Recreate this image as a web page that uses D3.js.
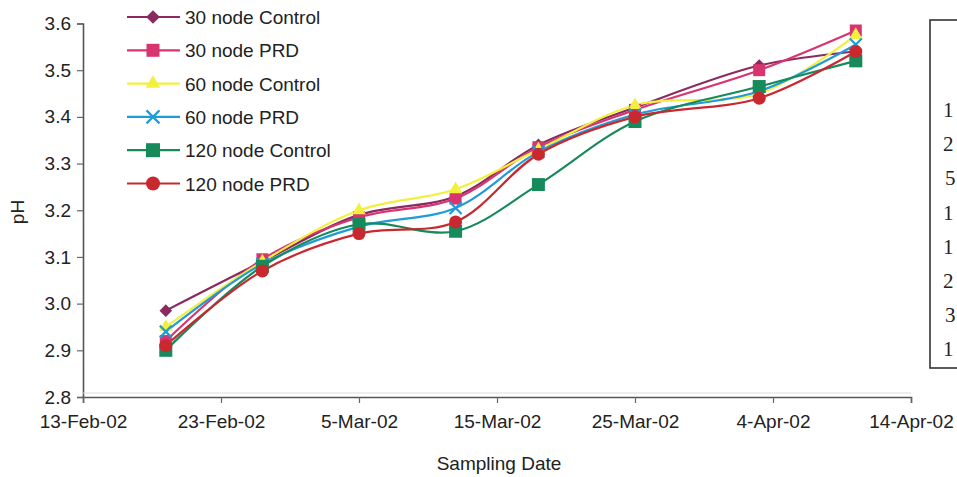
<!DOCTYPE html>
<html>
<head>
<meta charset="utf-8">
<script src="https://cdn.jsdelivr.net/npm/d3@7"></script>
<style>
  html, body { margin: 0; padding: 0; background: #fff; }
  svg { display: block; }
  text { font-family: "Liberation Sans", Arial, sans-serif; fill: #222; }
</style>
</head>
<body>
<svg id="chart" width="957" height="477"></svg>
<script>
// Sampling dates and pH readings per treatment
const sampleDates = ["2002-02-19", "2002-02-26", "2002-03-05", "2002-03-12", "2002-03-18", "2002-03-25", "2002-04-03", "2002-04-10"];
const seriesNames = ["30 node Control", "30 node PRD", "60 node Control", "60 node PRD", "120 node Control", "120 node PRD"];
const ph30Control  = [2.985, 3.09, 3.19, 3.23, 3.34, 3.42, 3.51, 3.54];
const ph30PRD      = [2.92, 3.095, 3.185, 3.225, 3.335, 3.415, 3.50, 3.585];
const ph60Control  = [2.95, 3.09, 3.20, 3.245, 3.33, 3.425, 3.45, 3.575];
const ph60PRD      = [2.94, 3.085, 3.165, 3.205, 3.325, 3.405, 3.455, 3.555];
const ph120Control = [2.90, 3.08, 3.17, 3.155, 3.255, 3.39, 3.465, 3.52];
const ph120PRD     = [2.91, 3.07, 3.15, 3.175, 3.32, 3.40, 3.44, 3.54];
const yTicks = [2.8, 2.9, 3.0, 3.1, 3.2, 3.3, 3.4, 3.5, 3.6];
const xTickDates = ["2002-02-13", "2002-02-23", "2002-03-05", "2002-03-15", "2002-03-25", "2002-04-04", "2002-04-14"];
// partially visible column of a neighbouring table
const sideCells = ["1", "2", "5", "1", "1", "2", "3", "1"];

const seriesValues = [ph30Control, ph30PRD, ph60Control, ph60PRD, ph120Control, ph120PRD];
const colors = ["#8a2a60", "#d8346f", "#f2f03c", "#1f9bd8", "#178a5c", "#c9282e"];
const shapes = ["diamond", "square", "triangle", "cross", "square", "circle"];

const parse = d3.timeParse("%Y-%m-%d");
const fmt = d3.timeFormat("%-d-%b-%y");

const svg = d3.select("#chart");
const plotLeft = 83, plotRight = 911, plotTop = 23.5, plotBottom = 397;

const x = d3.scaleTime()
  .domain([parse(xTickDates[0]), parse(xTickDates[xTickDates.length - 1])])
  .range([plotLeft, plotRight]);
const y = d3.scaleLinear().domain([2.8, 3.6]).range([plotBottom, plotTop]);

// axes
const yAxis = d3.axisLeft(y).tickValues(yTicks).tickSize(6).tickPadding(6).tickFormat(d3.format(".1f"));
const gy = svg.append("g").attr("transform", `translate(${plotLeft},0)`).call(yAxis);
gy.select(".domain").attr("stroke", "#555").attr("stroke-width", 1.6);
gy.selectAll(".tick line").attr("stroke", "#666").attr("stroke-width", 1.2);
gy.selectAll(".tick text").style("font-size", "19px").attr("fill", "#222");

const xAxis = d3.axisBottom(x).tickValues(xTickDates.map(parse)).tickSize(6).tickPadding(12).tickFormat(fmt);
const gx = svg.append("g").attr("transform", `translate(0,${plotBottom})`).call(xAxis);
gx.select(".domain").attr("stroke", "#555").attr("stroke-width", 1.6);
gx.selectAll(".tick line").attr("stroke", "#666").attr("stroke-width", 1.2);
gx.selectAll(".tick text").style("font-size", "19px").attr("fill", "#222");

// faint line just above the category axis
svg.append("line").attr("x1", plotLeft).attr("x2", plotRight).attr("y1", plotBottom - 4).attr("y2", plotBottom - 4)
  .attr("stroke", "#ddd").attr("stroke-width", 1);

// axis titles
svg.append("text").attr("x", 499).attr("y", 470).attr("text-anchor", "middle")
  .style("font-size", "19px").text("Sampling Date");
svg.append("text").attr("transform", "translate(24,212) rotate(-90)").attr("text-anchor", "middle")
  .style("font-size", "19px").text("pH");

// marker drawing
function marker(g, shape, color, s) {
  if (shape === "cross") {
    const h = s / 2;
    g.append("path").attr("d", `M${-h},${-h}L${h},${h}M${-h},${h}L${h},${-h}`)
      .attr("stroke", color).attr("stroke-width", 2.2).attr("fill", "none");
    return;
  }
  if (shape === "diamond") {
    // square turned 45 degrees
    g.append("path").attr("d", d3.symbol(d3.symbolSquare, s * s * 0.55)())
      .attr("transform", "rotate(45)").attr("fill", color);
    return;
  }
  const sym = { square: d3.symbolSquare, triangle: d3.symbolTriangle, circle: d3.symbolCircle }[shape];
  const area = shape === "square" ? s * s : shape === "circle" ? Math.PI * (s / 2) * (s / 2) : s * s * 0.55;
  g.append("path").attr("d", d3.symbol(sym, area)()).attr("fill", color);
}

const line = d3.line().curve(d3.curveCatmullRom.alpha(0.5))
  .x(d => x(d.date)).y(d => y(d.v));

const dates = sampleDates.map(parse);
seriesValues.forEach((vals, i) => {
  const pts = vals.map((v, j) => ({ date: dates[j], v }));
  svg.append("path").datum(pts).attr("d", line)
    .attr("fill", "none").attr("stroke", colors[i]).attr("stroke-width", 2.2);
});
seriesValues.forEach((vals, i) => {
  vals.forEach((v, j) => {
    const g = svg.append("g").attr("transform", `translate(${x(dates[j])},${y(v)})`);
    marker(g, shapes[i], colors[i], i === 4 || i === 5 ? 13 : 12);
  });
});

// legend
const legend = svg.append("g");
seriesNames.forEach((name, i) => {
  const ly = 17 + i * 33.3;
  const g = legend.append("g").attr("transform", `translate(0,${ly})`);
  g.append("line").attr("x1", 127).attr("x2", 180).attr("y1", 0).attr("y2", 0)
    .attr("stroke", colors[i]).attr("stroke-width", 2.2);
  const m = g.append("g").attr("transform", "translate(153,0)");
  marker(m, shapes[i], colors[i], i === 4 || i === 5 ? 14 : 13);
  g.append("text").attr("x", 185).attr("y", 7).style("font-size", "19px").text(name);
});

// neighbouring table, cut off at the right edge
svg.append("rect").attr("x", 930).attr("y", 20).attr("width", 60).attr("height", 348)
  .attr("fill", "none").attr("stroke", "#333").attr("stroke-width", 1.6);
sideCells.forEach((t, i) => {
  const dx = (t === "5" || t === "3") ? 945 : 943;
  svg.append("text").attr("x", dx).attr("y", 117 + i * 34.2)
    .style("font-family", "'Liberation Serif', 'Times New Roman', serif")
    .style("font-size", "21px").attr("fill", "#222").text(t);
});
</script>
</body>
</html>
